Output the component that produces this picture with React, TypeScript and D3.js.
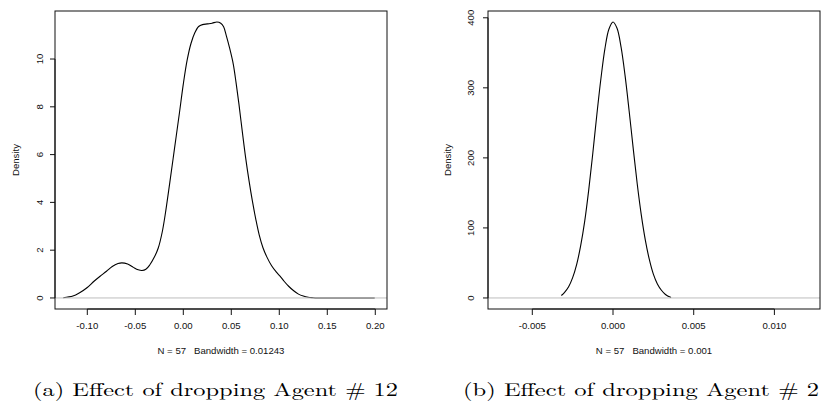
import React from "react";
import * as d3 from "d3";

// ---------- data ----------
const leftX = [
  -0.125, -0.115, -0.108, -0.1, -0.093, -0.087, -0.08, -0.074, -0.068, -0.064,
  -0.058, -0.052, -0.047, -0.043, -0.039, -0.035, -0.03, -0.026, -0.022, -0.019,
  -0.014, -0.009, -0.004, 0.0, 0.004, 0.008, 0.012, 0.016, 0.02, 0.025, 0.03,
  0.035, 0.039, 0.042, 0.045, 0.048, 0.052, 0.055, 0.058, 0.0615, 0.065, 0.0685,
  0.072, 0.0755, 0.079, 0.083, 0.087, 0.092, 0.097, 0.101, 0.105, 0.11, 0.115,
  0.12, 0.125, 0.13, 0.135, 0.14, 0.1994,
];
const leftY = [
  0.01, 0.08, 0.22, 0.44, 0.7, 0.9, 1.12, 1.32, 1.44, 1.47, 1.42, 1.28, 1.18,
  1.15, 1.2, 1.38, 1.72, 2.1, 2.75, 3.45, 4.85, 6.3, 7.75, 8.95, 9.95, 10.65,
  11.1, 11.36, 11.44, 11.47, 11.5, 11.55, 11.5, 11.35, 10.95, 10.5, 9.8, 9.0,
  8.1, 6.95, 5.85, 4.9, 4.05, 3.3, 2.65, 2.1, 1.72, 1.35, 1.08, 0.9, 0.7, 0.48,
  0.3, 0.16, 0.08, 0.03, 0.01, 0.0, 0.0,
];
const leftXTicks = [-0.1, -0.05, 0.0, 0.05, 0.1, 0.15, 0.2];
const leftXTickLabels = ["-0.10", "-0.05", "0.00", "0.05", "0.10", "0.15", "0.20"];
const leftYTicks = [0, 2, 4, 6, 8, 10];
const leftYTickLabels = ["0", "2", "4", "6", "8", "10"];
const leftXDomain = [-0.13365, 0.2122];
const leftYDomain = [-0.462, 12.01];
const leftSubtitle = "N = 57   Bandwidth = 0.01243";
const leftCaption = "(a) Effect of dropping Agent # 12";

const rightX = [
  -0.0032, -0.003, -0.00275, -0.0025, -0.00225, -0.002, -0.00175, -0.0015,
  -0.00125, -0.001, -0.00075, -0.0005, -0.00025, 0, 0.00025, 0.0005, 0.00075,
  0.001, 0.00125, 0.0015, 0.00175, 0.002, 0.00225, 0.0025, 0.00275, 0.003,
  0.00325, 0.0036,
];
const rightY = [
  3.5, 8, 16, 29, 48, 75, 110, 155, 207, 262, 313, 356, 384, 394, 385, 358, 317,
  267, 214, 163, 119, 83, 55, 34, 20, 11, 5, 0.5,
];
const rightXTicks = [-0.005, 0.0, 0.005, 0.01];
const rightXTickLabels = ["-0.005", "0.000", "0.005", "0.010"];
const rightYTicks = [0, 100, 200, 300, 400];
const rightYTickLabels = ["0", "100", "200", "300", "400"];
const rightXDomain = [-0.007745, 0.012825];
const rightYDomain = [-15.76, 409.7];
const rightSubtitle = "N = 57   Bandwidth = 0.001";
const rightCaption = "(b) Effect of dropping Agent # 2";

const yLabel = "Density";

const SANS = "'Liberation Sans', Arial, Helvetica, sans-serif";
const SERIF = "'Latin Modern Roman', 'CMU Serif', 'Liberation Serif', 'Times New Roman', serif";

type PanelProps = {
  x0: number;
  x1: number;
  y0: number;
  y1: number;
  xs: number[];
  ys: number[];
  xDomain: number[];
  yDomain: number[];
  xTicks: number[];
  xTickLabels: string[];
  yTicks: number[];
  yTickLabels: string[];
  subtitle: string;
  caption: string;
  captionX: number;
  captionLen: number;
  yTickLabelX: number;
  yLabelX: number;
};

function Panel(p: PanelProps) {
  const x = d3.scaleLinear().domain(p.xDomain).range([p.x0, p.x1]);
  const y = d3.scaleLinear().domain(p.yDomain).range([p.y1, p.y0]);
  const pts: [number, number][] = p.xs.map((v, i) => [v, p.ys[i]]);
  const line = d3
    .line<[number, number]>()
    .x((d) => x(d[0]))
    .y((d) => y(d[1]))
    .curve(d3.curveCatmullRom.alpha(0.5));
  const cx = (p.x0 + p.x1) / 2;
  const cy = (p.y0 + p.y1) / 2;
  const tickLen = 6;
  return (
    <g>
      {/* curve */}
      <path d={line(pts) || ""} fill="none" stroke="#000" strokeWidth={1.1} />
      {/* zero line */}
      <line x1={p.x0} x2={p.x1} y1={y(0)} y2={y(0)} stroke="#bebebe" strokeWidth={1} />
      {/* box */}
      <rect
        x={p.x0}
        y={p.y0}
        width={p.x1 - p.x0}
        height={p.y1 - p.y0}
        fill="none"
        stroke="#111"
        strokeWidth={1}
      />
      {/* x axis */}
      <line
        x1={x(p.xTicks[0])}
        x2={x(p.xTicks[p.xTicks.length - 1])}
        y1={p.y1}
        y2={p.y1}
        stroke="#111"
      />
      {p.xTicks.map((t, i) => (
        <g key={"xt" + i}>
          <line x1={x(t)} x2={x(t)} y1={p.y1} y2={p.y1 + tickLen} stroke="#111" />
          <text
            x={x(t)}
            y={p.y1 + 20}
            textAnchor="middle"
            fontFamily={SANS}
            fontSize={9.6}
            fill="#111"
          >
            {p.xTickLabels[i]}
          </text>
        </g>
      ))}
      {/* y axis */}
      <line
        x1={p.x0}
        x2={p.x0}
        y1={y(p.yTicks[0])}
        y2={y(p.yTicks[p.yTicks.length - 1])}
        stroke="#111"
      />
      {p.yTicks.map((t, i) => (
        <g key={"yt" + i}>
          <line x1={p.x0 - 5} x2={p.x0} y1={y(t)} y2={y(t)} stroke="#111" />
          <text
            transform={`translate(${p.yTickLabelX},${y(t)}) rotate(-90)`}
            textAnchor="middle"
            dy="0.35em"
            fontFamily={SANS}
            fontSize={9.6}
            fill="#111"
          >
            {p.yTickLabels[i]}
          </text>
        </g>
      ))}
      <text
        transform={`translate(${p.yLabelX},${cy}) rotate(-90)`}
        textAnchor="middle"
        dy="0.35em"
        fontFamily={SANS}
        fontSize={9.6}
        fill="#111"
      >
        {yLabel}
      </text>
      {/* subtitle */}
      <text
        x={cx}
        y={354}
        textAnchor="middle"
        fontFamily={SANS}
        fontSize={9.6}
        fill="#111"
        style={{ whiteSpace: "pre" }}
      >
        {p.subtitle}
      </text>
      {/* caption */}
      <text
        x={p.captionX}
        y={396}
        fontFamily={SERIF}
        fontSize={18.5}
        fill="#000"
        textLength={p.captionLen}
        lengthAdjust="spacingAndGlyphs"
      >
        {p.caption}
      </text>
    </g>
  );
}

export default function App() {
  return (
    <svg
      width={821}
      height={402}
      viewBox="0 0 821 402"
      style={{ position: "absolute", left: 0, top: 0, background: "#fff" }}
    >
      <rect x={0} y={0} width={821} height={402} fill="#fff" />
      <Panel
        x0={55}
        x1={387}
        y0={11}
        y1={309}
        xs={leftX}
        ys={leftY}
        xDomain={leftXDomain}
        yDomain={leftYDomain}
        xTicks={leftXTicks}
        xTickLabels={leftXTickLabels}
        yTicks={leftYTicks}
        yTickLabels={leftYTickLabels}
        subtitle={leftSubtitle}
        caption={leftCaption}
        captionX={33}
        captionLen={365}
        yTickLabelX={40}
        yLabelX={15.5}
      />
      <Panel
        x0={488}
        x1={820}
        y0={11}
        y1={309}
        xs={rightX}
        ys={rightY}
        xDomain={rightXDomain}
        yDomain={rightYDomain}
        xTicks={rightXTicks}
        xTickLabels={rightXTickLabels}
        yTicks={rightYTicks}
        yTickLabels={rightYTickLabels}
        subtitle={rightSubtitle}
        caption={rightCaption}
        captionX={463}
        captionLen={356}
        yTickLabelX={471}
        yLabelX={448}
      />
    </svg>
  );
}
